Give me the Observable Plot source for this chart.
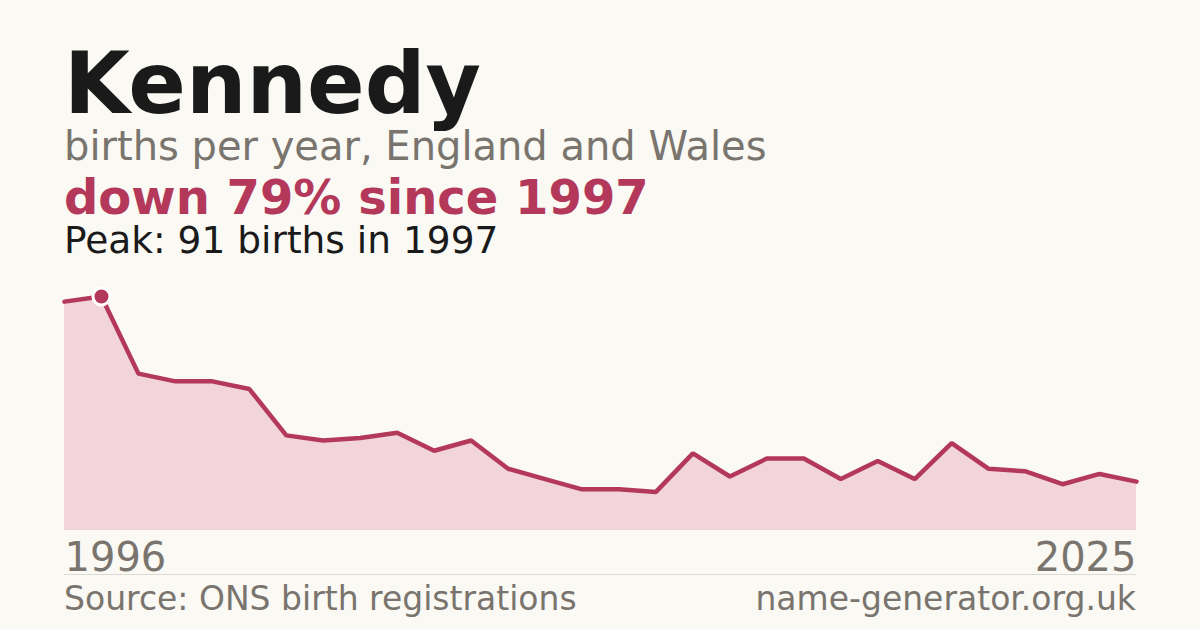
<!DOCTYPE html>
<html>
<head>
<meta charset="utf-8">
<script src="https://cdn.jsdelivr.net/npm/d3@7"></script>
<script src="https://cdn.jsdelivr.net/npm/@observablehq/plot@0.6"></script>
<style>
  html, body { margin: 0; padding: 0; background: #faf9f4; }
  body { width: 1200px; height: 630px; position: relative; overflow: hidden; font-family: "DejaVu Sans", sans-serif; }
  .t { position: absolute; left: 64px; white-space: nowrap; line-height: 0.85; }
  #title { font-size: 85px; font-weight: bold; color: #1a1a1a; top: 47.5px; }
  #sub { font-size: 40px; color: #79746d; top: 129px; }
  #head { font-size: 48px; font-weight: bold; color: #b3385a; top: 177px; }
  #peak { font-size: 37.5px; color: #1a1a1a; top: 225px; }
  #chart { position: absolute; left: 0; top: 270px; }
  #rule { position: absolute; left: 64px; width: 1072px; top: 574px; height: 1px; background: #dddad3; }
  #src { font-size: 33px; color: #79746d; top: 584.5px; }
  #site { position: absolute; right: 64px; font-size: 33px; color: #79746d; top: 584.5px; white-space: nowrap; line-height: 0.85; }
</style>
</head>
<body>
<div id="title" class="t">Kennedy</div>
<div id="sub" class="t">births per year, England and Wales</div>
<div id="head" class="t">down 79% since 1997</div>
<div id="peak" class="t">Peak: 91 births in 1997</div>
<div id="chart"></div>
<div id="rule"></div>
<div id="src" class="t">Source: ONS birth registrations</div>
<div id="site">name-generator.org.uk</div>
<script>
const years = [1996,1997,1998,1999,2000,2001,2002,2003,2004,2005,2006,2007,2008,2009,2010,2011,2012,2013,2014,2015,2016,2017,2018,2019,2020,2021,2022,2023,2024,2025];
const births = [89,91,61,58,58,55,37,35,36,38,31,35,24,20,16,16,15,30,21,28,28,20,27,20,34,24,23,18,22,19];
const tickYears = [1996, 2025];
const peakYear = 1997;

const data = years.map((y, i) => ({year: y, births: births[i]}));
const peak = data.filter(d => d.year === peakYear);
const crimson = "#b3385a";

const chart = Plot.plot({
  width: 1200,
  height: 320,
  marginLeft: 64,
  marginRight: 64,
  marginTop: 26,
  marginBottom: 60,
  style: {fontFamily: "DejaVu Sans, sans-serif", background: "transparent", overflow: "visible"},
  x: {domain: [1996, 2025], axis: null},
  y: {domain: [0, 91], axis: null},
  marks: [
    Plot.areaY(data, {x: "year", y: "births", fill: "#f1d5db"}),
    Plot.lineY(data, {x: "year", y: "births", stroke: crimson, strokeWidth: 4.5, strokeLinejoin: "miter"}),
    Plot.dot(peak, {x: "year", y: "births", r: 8.5, fill: crimson, stroke: "#ffffff", strokeWidth: 3}),
    Plot.axisX([tickYears[0]], {tickSize: 0, tickPadding: 12, fontSize: 40, fill: "#79746d", textAnchor: "start", tickFormat: "d", label: null}),
    Plot.axisX([tickYears[1]], {tickSize: 0, tickPadding: 12, fontSize: 40, fill: "#79746d", textAnchor: "end", tickFormat: "d", label: null})
  ]
});
document.getElementById("chart").appendChild(chart);
</script>
</body>
</html>
